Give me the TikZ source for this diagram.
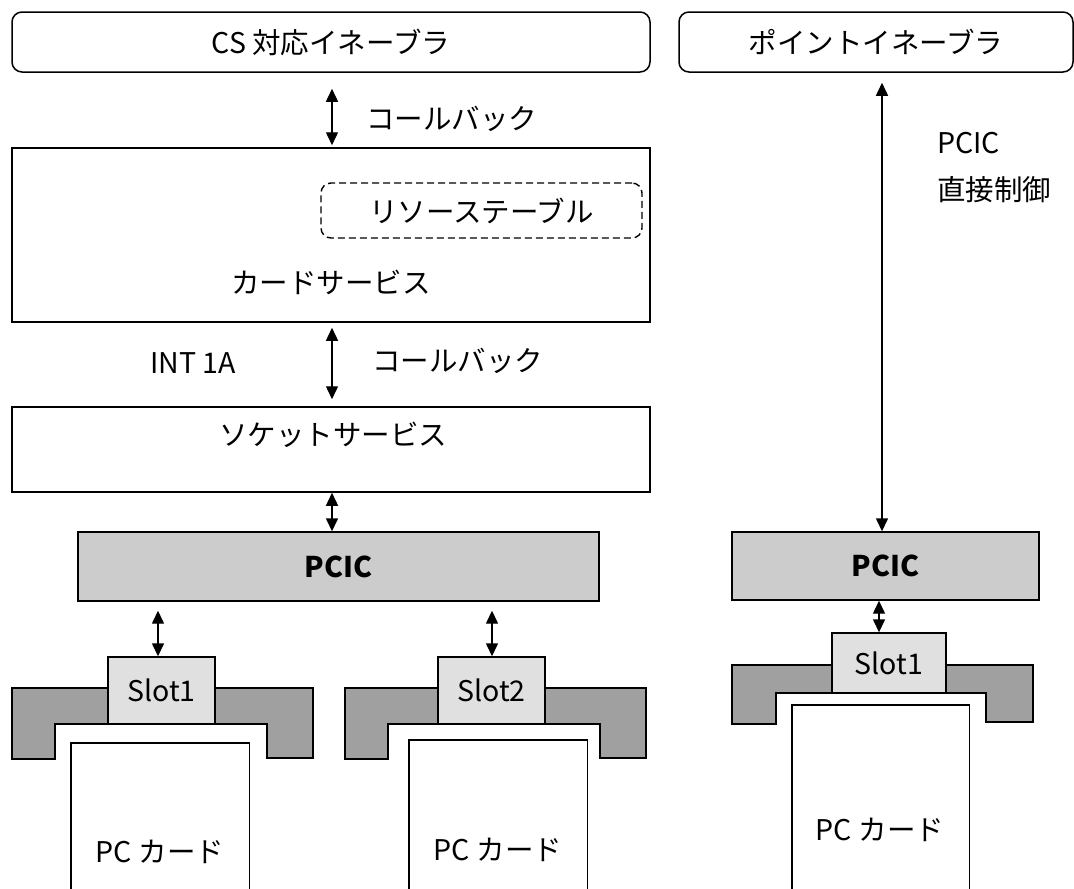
\documentclass[tikz,border=0pt]{standalone}
\usepackage{fontspec}
\setmainfont{Noto Sans CJK JP}
\usetikzlibrary{arrows.meta}
\newcommand\myfs{\fontsize{28.5}{33}\selectfont}
\tikzset{
  box/.style={draw, line width=1.5pt, inner sep=0pt, font=\myfs},
  rbox/.style={box, rounded corners=10pt},
  dbox/.style={draw, line width=1.4pt, dash pattern=on 7pt off 4pt, rounded corners=10pt, inner sep=0pt, font=\myfs},
  pcicbox/.style={draw, line width=1.4pt, fill=pcicgray, inner sep=0pt, font=\myfs\bfseries},
  slotbox/.style={draw, line width=1.4pt, fill=slotgray, inner sep=0pt, font=\myfs},
  bracket/.style={draw, line width=1.4pt, fill=bracketgray},
  cardline/.style={draw, line width=1.4pt},
  txt/.style={inner sep=0pt, font=\myfs},
  arr/.style={{Triangle[width=12pt,length=13pt]}-{Triangle[width=12pt,length=13pt]}, line width=1.4pt},
}
\definecolor{pcicgray}{HTML}{CCCCCC}
\definecolor{slotgray}{HTML}{E0E0E0}
\definecolor{bracketgray}{HTML}{A0A0A0}
\begin{document}
\begin{tikzpicture}[x=1pt, y=-1pt]
\useasboundingbox (0,0) rectangle (1074,889);
% top enablers
\node[rbox, minimum width=638pt, minimum height=60pt] (cs) at (331,42) {CS 対応イネーブラ};
\node[rbox, minimum width=394pt, minimum height=60pt] (pe) at (876,42) {ポイントイネーブラ};
% card services
\node[box, minimum width=638pt, minimum height=174pt] (cserv) at (331,235) {};
\node[txt] (cservt) at (331,282) {カードサービス};
\node[dbox, minimum width=321pt, minimum height=55pt] (rtab) at (481.5,210.5) {リソーステーブル};
% socket services
\node[box, minimum width=638pt, minimum height=85pt] (sock) at (331,449.5) {};
\node[txt] (sockt) at (333,435) {ソケットサービス};
% PCIC
\node[pcicbox, minimum width=521pt, minimum height=69pt] (pcicL) at (338.5,566.5) {PCIC};
\node[pcicbox, minimum width=307pt, minimum height=68pt] (pcicR) at (885.5,566) {PCIC};
% brackets
\path[bracket] (12,688) -- (313,688) -- (313,758) -- (267,758) -- (267,724) -- (55,724) -- (55,759) -- (12,759) -- cycle;
\path[bracket] (345,688) -- (646,688) -- (646,758) -- (600,758) -- (600,724) -- (388,724) -- (388,759) -- (345,759) -- cycle;
\path[bracket] (732,665) -- (1033,665) -- (1033,722) -- (986,722) -- (986,693) -- (776,693) -- (776,724) -- (732,724) -- cycle;
% slots
\node[slotbox, minimum width=107pt, minimum height=67pt] (slot1) at (161.5,690.5) {Slot1};
\node[slotbox, minimum width=107pt, minimum height=67pt] (slot2) at (491.5,690.5) {Slot2};
\node[slotbox, minimum width=114pt, minimum height=60pt] (slotR) at (889,663) {Slot1};
% PC cards (open at the bottom edge)
\node[minimum width=178pt, minimum height=146pt, inner sep=0pt] (card1) at (160,816) {};
\node[minimum width=178pt, minimum height=149pt, inner sep=0pt] (card2) at (498,814.5) {};
\node[minimum width=177pt, minimum height=184pt, inner sep=0pt] (cardR) at (880.5,797) {};
\path[cardline] (card1.south west) |- (card1.north east) -- (card1.south east);
\path[cardline] (card2.south west) |- (card2.north east) -- (card2.south east);
\path[cardline] (cardR.south west) |- (cardR.north east) -- (cardR.south east);
\node[txt] (card1t) at (160,852) {PC カード};
\node[txt] (card2t) at (498,850) {PC カード};
\node[txt] (cardRt) at (880,830) {PC カード};
% labels
\node[txt, anchor=west] (cb1) at (366,119) {コールバック};
\node[txt, anchor=west] (cb2) at (372,361) {コールバック};
\node[txt, anchor=west] (int) at (150,363) {INT 1A};
\node[txt, anchor=west] (dpcic) at (937,143) {PCIC};
\node[txt, anchor=west] (dctl) at (937,190) {直接制御};
% connector x positions
\coordinate (xl) at (332,0);
\coordinate (x1) at (158,0);
\coordinate (x2) at (492,0);
\coordinate (x3) at (879,0);
\coordinate (x4) at (882,0);
% arrows
\draw[arr, shorten <=16pt, shorten >=2pt] (cs.south -| xl) -- (cserv.north -| xl);
\draw[arr, shorten <=5pt, shorten >=7pt] (cserv.south -| xl) -- (sock.north -| xl);
\draw[arr] (sock.south -| xl) -- (pcicL.north -| xl);
\draw[arr, shorten <=9pt] (pcicL.south -| x1) -- (slot1.north -| x1);
\draw[arr, shorten <=9pt] (pcicL.south -| x2) -- (slot2.north -| x2);
\draw[arr] (pcicR.south -| x3) -- (slotR.north -| x3);
\draw[arr, shorten >=10pt] (pcicR.north -| x4) -- (pe.south -| x4);
\end{tikzpicture}
\end{document}
